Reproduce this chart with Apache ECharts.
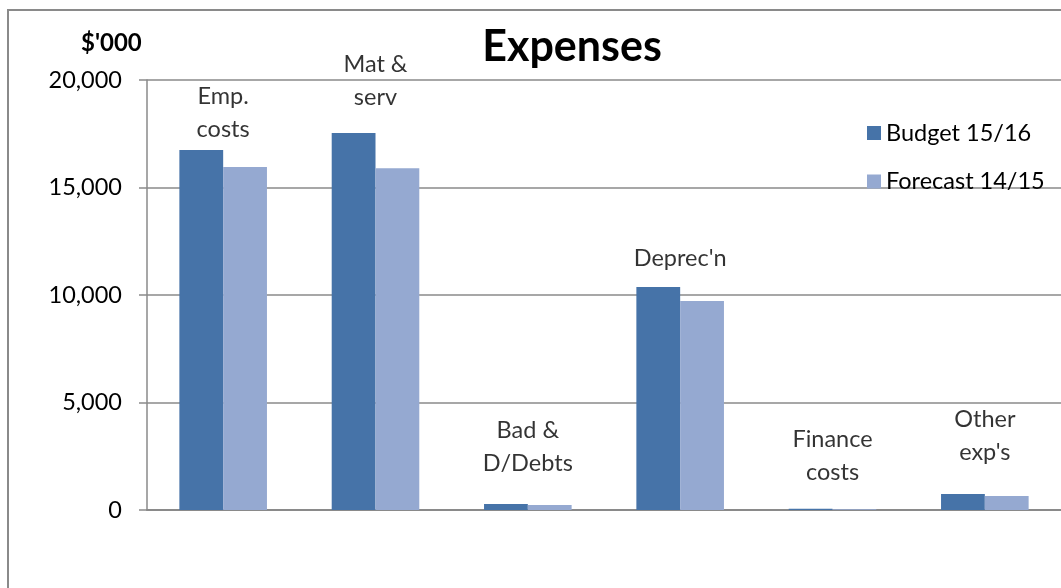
<!DOCTYPE html>
<html>
<head>
<meta charset="utf-8">
<script src="https://cdn.jsdelivr.net/npm/echarts@6/dist/echarts.min.js"></script>
<style>
  html, body { margin: 0; padding: 0; background: #fff; }
  #chart { width: 1061px; height: 588px; }
</style>
</head>
<body>
<div id="chart"></div>
<script>
// Expense categories ($'000)
const categories = ['Emp.\ncosts', 'Mat &\nserv', 'Bad &\nD/Debts', "Deprec'n", 'Finance\ncosts', "Other\nexp's"];
const budget1516 = [16750, 17530, 280, 10370, 60, 740];
const forecast1415 = [15950, 15900, 230, 9720, 30, 650];
// Height (in $'000) at which each category caption sits
const captionLevels = [18450, 19950, 2930, 11720, 2510, 3440];
const yTicks = { min: 0, max: 20000, step: 5000 };

const FONT = 'Lato, "Open Sans", sans-serif';
const TXT = 23.5;
const chart = echarts.init(document.getElementById('chart'));

chart.setOption({
  animation: false,
  backgroundColor: '#fff',
  textStyle: { fontFamily: FONT },
  title: {
    text: 'Expenses',
    left: 567, top: 21, textAlign: 'center',
    textStyle: { fontFamily: FONT, fontSize: 43, fontWeight: 'bold', color: '#000' }
  },
  graphic: [
    {
      type: 'rect', silent: true, z: -1,
      shape: { x: 8, y: 10, width: 1100, height: 650 },
      style: { fill: 'none', stroke: '#8a8a8a', lineWidth: 2 }
    },
    {
      type: 'text', left: 81, top: 31,
      style: { text: "$'000", font: 'bold 24px ' + FONT, fill: '#000' }
    }
  ],
  legend: {
    orient: 'vertical',
    left: 862, top: 116,
    icon: 'rect',
    itemWidth: 14, itemHeight: 14,
    itemGap: 24.5, itemTextGap: 9,
    textStyle: { fontFamily: FONT, fontSize: TXT, color: '#000' },
    data: ['Budget 15/16', 'Forecast 14/15']
  },
  grid: { left: 147, top: 80, width: 918, height: 430, containLabel: false },
  xAxis: {
    type: 'category',
    data: categories,
    axisLine: { show: true, lineStyle: { color: '#8a8a8a', width: 2 } },
    axisTick: { show: false },
    axisLabel: { show: false },
    splitLine: { show: false }
  },
  yAxis: {
    type: 'value',
    min: yTicks.min, max: yTicks.max, interval: yTicks.step,
    axisLine: { show: true, lineStyle: { color: '#8a8a8a', width: 1.5 } },
    axisTick: { show: true, length: 8, lineStyle: { color: '#8a8a8a', width: 1.5 } },
    splitLine: { show: true, lineStyle: { color: '#8a8a8a', width: 1.5 } },
    axisLabel: {
      margin: 25, fontSize: TXT, color: '#000', fontFamily: FONT,
      formatter: v => v.toLocaleString('en-US')
    }
  },
  series: [
    {
      name: 'Budget 15/16', type: 'bar', data: budget1516,
      barGap: '0%', barCategoryGap: '42.5%',
      itemStyle: { color: '#4673a8' }
    },
    {
      name: 'Forecast 14/15', type: 'bar', data: forecast1415,
      itemStyle: { color: '#95a9d1' }
    },
    {
      name: 'captions', type: 'scatter',
      data: captionLevels.map((v, i) => [i, v]),
      symbolSize: 0,
      silent: true,
      label: {
        show: true, position: 'inside',
        formatter: p => categories[p.data[0]],
        fontFamily: FONT, fontSize: TXT, lineHeight: 33, color: '#000', align: 'center'
      }
    }
  ]
});
</script>
</body>
</html>
